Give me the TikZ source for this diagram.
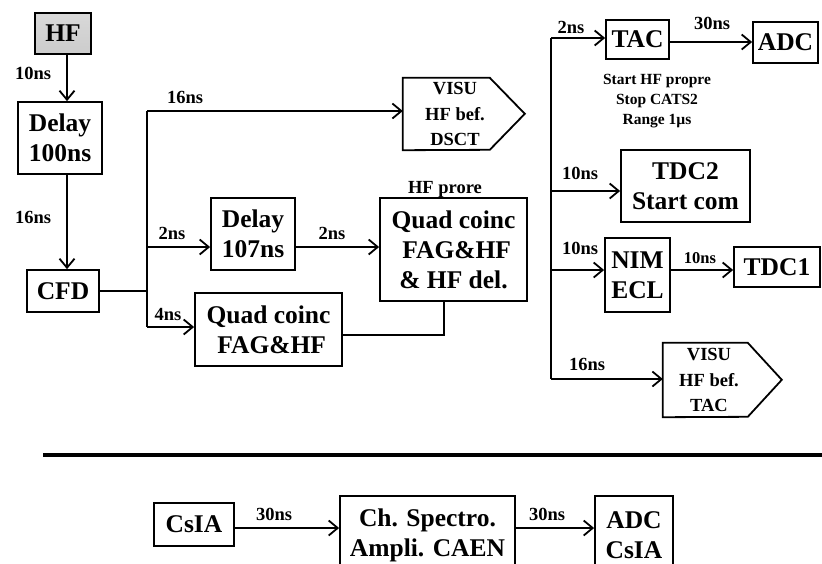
\documentclass[tikz,border=0pt]{standalone}
\usepackage{fontspec}
\setmainfont{Liberation Serif}
\usetikzlibrary{arrows.meta}
\newcommand\bxfont{\fontsize{25.5}{30}\selectfont\bfseries}
\newcommand\lbfont{\fontsize{18.5}{20}\selectfont\bfseries}
\newcommand\smfont{\fontsize{15.5}{20}\selectfont\bfseries}
\newcommand\vsfont{\fontsize{18.5}{25.5}\selectfont\bfseries}
\tikzset{
  box/.style={draw, line width=1.8pt, align=center, font=\bxfont, inner sep=0pt},
  vis/.style={align=center, font=\vsfont, inner sep=0pt},
  lab/.style={font=\lbfont, inner sep=0pt},
  sub/.style={font=\smfont, inner sep=0pt, align=center},
  ln/.style={line width=1.8pt},
  arr/.style={line width=1.8pt, -{Straight Barb[length=9pt,width=15pt]}},
}
\begin{document}
\begin{tikzpicture}[x=1pt,y=-1pt]
\useasboundingbox (0,0) rectangle (822,563);
\clip (0,0) rectangle (822,563);
% left column
\node[box, minimum width=56pt, minimum height=41pt, top color=gray!30, middle color=gray!6, bottom color=gray!40] (HF) at (63,33.5) {HF};
\node[box, minimum width=84pt, minimum height=72pt] (D1) at (60,138) {Delay\\100ns};
\node[box, minimum width=72pt, minimum height=42pt] (CFD) at (63,291) {CFD};
\coordinate (ax) at (67,0);
\draw[arr] (HF.south -| ax) -- (D1.north -| ax);
\draw[arr] (D1.south -| ax) -- (CFD.north -| ax);
\node[lab] (l1) at (33,73) {10ns};
\node[lab] (l2) at (33,217) {16ns};
% middle
\node[vis, minimum width=104pt, minimum height=72pt] (V1) at (455,114) {VISU\\HF bef.\\DSCT};
\draw[ln] (V1.north west) -- ++(87,0) -- ++(35,36) -- ++(-35,36) -- (V1.south west) -- cycle;
\node[box, minimum width=84pt, minimum height=72pt] (D2) at (253,234) {Delay\\107ns};
\node[box, minimum width=147pt, minimum height=103pt] (Q2) at (453.5,249.5) {Quad coinc\\\ FAG\&HF\\\& HF del.};
\node[box, minimum width=147pt, minimum height=73pt] (Q1) at (268.5,329.5) {Quad coinc\\\ FAG\&HF};
\node[lab] (hp) at (445,189) {HF prore};
\coordinate (sm) at (147,291);
\coordinate (s1) at (147,111);
\coordinate (s2) at (147,247);
\coordinate (s4) at (147,327);
\coordinate (q) at (444,335);
\draw[ln] (CFD.east) -- (sm);
\draw[ln] (s1) -- (s4);
\draw[arr] (s1) -- (s1 -| V1.west);
\draw[arr] (s2) -- (s2 -| D2.west);
\draw[arr] (s4) -- (s4 -| Q1.west);
\draw[arr] (D2.east |- s2) -- (Q2.west |- s2);
\draw[ln] (q -| Q1.east) -- (q) -- (q |- Q2.south);
\node[lab] (l3) at (185,97) {16ns};
\node[lab] (l4) at (172,233) {2ns};
\node[lab] (l5) at (332,233) {2ns};
\node[lab] (l6) at (168,314) {4ns};
% right column
\node[box, minimum width=63pt, minimum height=39pt] (TAC) at (637.5,39.5) {TAC};
\node[box, minimum width=65pt, minimum height=41pt] (ADC) at (785.5,42.5) {ADC};
\node[sub] (tt) at (657,101) {Start HF propre\\Stop CATS2\\Range 1µs};
\node[box, minimum width=129pt, minimum height=72pt] (TDC2) at (685.5,186) {TDC2\\Start com};
\node[box, minimum width=65pt, minimum height=74pt] (NIM) at (637.5,275) {NIM\\ECL};
\node[box, minimum width=86pt, minimum height=40pt] (TDC1) at (777,267) {TDC1};
\node[vis, minimum width=92pt, minimum height=74pt] (V2) at (709,380) {VISU\\HF bef.\\TAC};
\draw[ln] (V2.north west) -- ++(85,0) -- ++(34,37) -- ++(-34,37) -- (V2.south west) -- cycle;
\coordinate (r0) at (551,38);
\coordinate (r1) at (551,191);
\coordinate (r2) at (551,270);
\coordinate (r3) at (551,379);
\coordinate (ty) at (0,42);
\draw[ln] (r0) -- (r3);
\draw[arr] (r0) -- (r0 -| TAC.west);
\draw[arr] (TAC.east |- ty) -- (ADC.west |- ty);
\draw[arr] (r1) -- (r1 -| TDC2.west);
\draw[arr] (r2) -- (r2 -| NIM.west);
\draw[arr] (NIM.east |- r2) -- (TDC1.west |- r2);
\draw[arr] (r3) -- (r3 -| V2.west);
\node[lab] (l7) at (571,27) {2ns};
\node[lab] (l8) at (712,23) {30ns};
\node[lab] (l9) at (580,173) {10ns};
\node[lab] (l10) at (580,248) {10ns};
\node[lab, font=\fontsize{16.5}{20}\selectfont\bfseries] (l11) at (700,258) {10ns};
\node[lab] (l12) at (587,364) {16ns};
% separator
\coordinate (sepa) at (43,455);
\coordinate (sepb) at (822,455);
\draw[line width=4pt] (sepa) -- (sepb);
% bottom row
\node[box, minimum width=80pt, minimum height=43pt] (CsIA) at (194,524.5) {CsIA};
\node[box, minimum width=175pt, minimum height=79pt] (ChS) at (427.5,535.5) {Ch. Spectro.\\Ampli. CAEN};
\node[box, minimum width=78pt, minimum height=79pt] (ADC2) at (634,535.5) {ADC\\CsIA};
\coordinate (by) at (0,528);
\draw[arr] (CsIA.east |- by) -- (ChS.west |- by);
\draw[arr] (ChS.east |- by) -- (ADC2.west |- by);
\node[lab] (l13) at (274,514) {30ns};
\node[lab] (l14) at (547,514) {30ns};
\end{tikzpicture}
\end{document}
